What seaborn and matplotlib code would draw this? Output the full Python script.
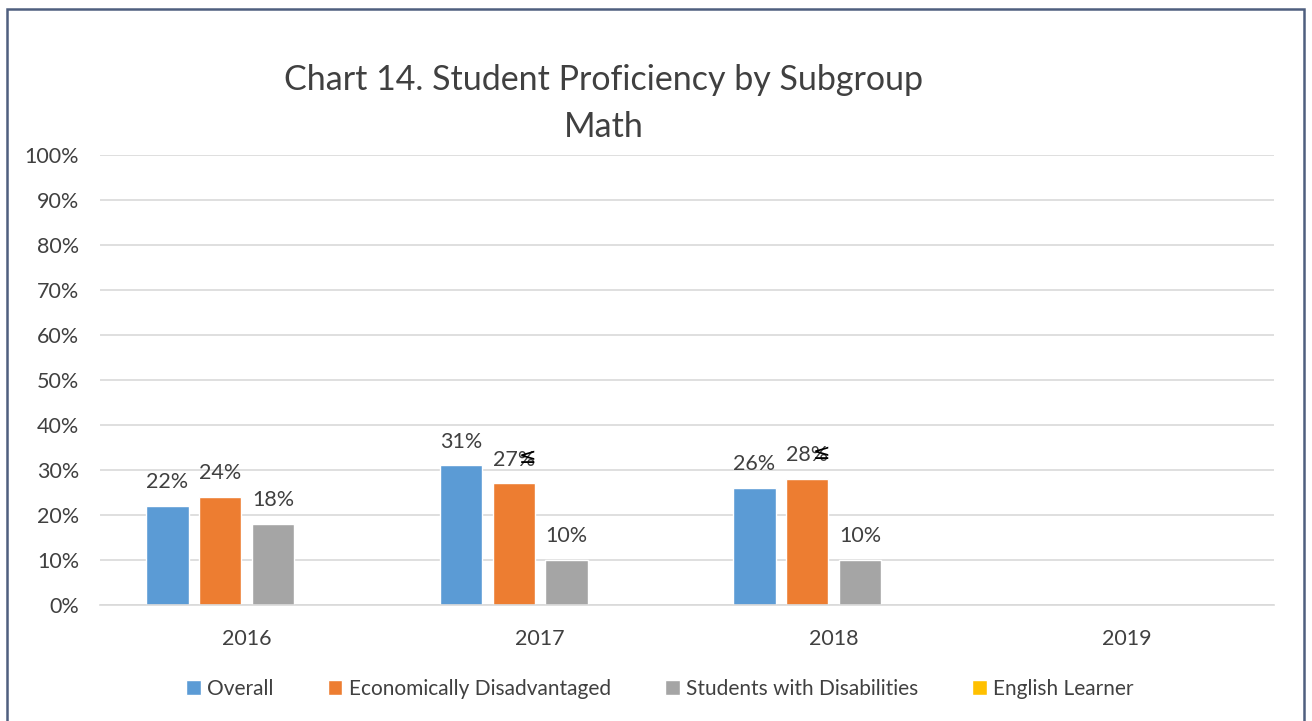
import matplotlib.pyplot as plt
import seaborn as sns
import pandas as pd
from matplotlib.patches import Patch, Rectangle

# Data
years = ["2016", "2017", "2018", "2019"]
subgroups = ["Overall", "Economically Disadvantaged", "Students with Disabilities", "English Learner"]
overall = [22, 31, 26, None]
econ_disadv = [24, 27, 28, None]
disabilities = [18, 10, 10, None]
english_learner = [None, None, None, None]
colors = ["#5B9BD5", "#ED7D31", "#A5A5A5", "#FFC000"]

rows = []
for name, vals in zip(subgroups, [overall, econ_disadv, disabilities, english_learner]):
    for yr, v in zip(years, vals):
        if v is not None:
            rows.append({"year": yr, "subgroup": name, "pct": v})
df = pd.DataFrame(rows)

sns.set_style("white")
plt.rcParams['font.family'] = ['Lato', 'DejaVu Sans']
text_col = "#404040"

fig = plt.figure(figsize=(13.12, 7.21), dpi=100)
ax = fig.add_axes([0.0762, 0.1609, 0.8948, 0.6241])

sns.barplot(data=df, x="year", y="pct", hue="subgroup", order=years,
            hue_order=subgroups, palette=dict(zip(subgroups, colors)),
            width=0.72, gap=0.2, ax=ax, legend=False, saturation=1)

ax.set_ylim(0, 100)
ax.set_xlim(-0.5, 3.5)
ax.set_yticks(range(0, 101, 10))
ax.set_yticklabels([f"{t}%" for t in range(0, 101, 10)])
ax.yaxis.grid(True, color="#D9D9D9", lw=1.2)
ax.set_axisbelow(True)
for s in ["top", "right", "left"]:
    ax.spines[s].set_visible(False)
ax.spines["bottom"].set_color("#D9D9D9")
ax.spines["bottom"].set_linewidth(1.2)
ax.tick_params(axis="both", length=0, labelsize=15.5, colors=text_col)
ax.tick_params(axis="y", pad=15)
ax.tick_params(axis="x", pad=17)
ax.set_xlabel("")
ax.set_ylabel("")

for cont in ax.containers:
    ax.bar_label(cont, fmt="{:.0f}%", padding=10, fontsize=15.5, color=text_col)

# stray "≤" marks next to two orange labels
econ_bars = ax.containers[1]
for i in [1, 2]:
    b = econ_bars[i]
    ax.annotate("≤", xy=(b.get_x() + b.get_width(), b.get_height()),
                xytext=(-5, 19), textcoords="offset points",
                ha="center", va="center", fontsize=15, color="black",
                family="DejaVu Sans")

fig.text(0.46, 1 - 80 / 721, "Chart 14. Student Proficiency by Subgroup",
         ha="center", va="center", fontsize=24.5, color=text_col)
fig.text(0.46, 1 - 127 / 721, "Math",
         ha="center", va="center", fontsize=24.5, color=text_col)

handles = [Patch(facecolor=c, label=s) for s, c in zip(subgroups, colors)]
fig.legend(handles=handles, loc="center", bbox_to_anchor=(0.503, 0.045), ncol=4,
           frameon=False, fontsize=15, handlelength=0.7, handleheight=0.7,
           handletextpad=0.3, columnspacing=2.6, labelcolor=text_col)

fig.patches.append(Rectangle((7 / 1312, -0.05), (1304 - 7) / 1312, 1.05 - 9.5 / 721,
                             transform=fig.transFigure, fill=False,
                             edgecolor="#4F5F7F", lw=1.8))

plt.savefig("out.png", dpi=100)
